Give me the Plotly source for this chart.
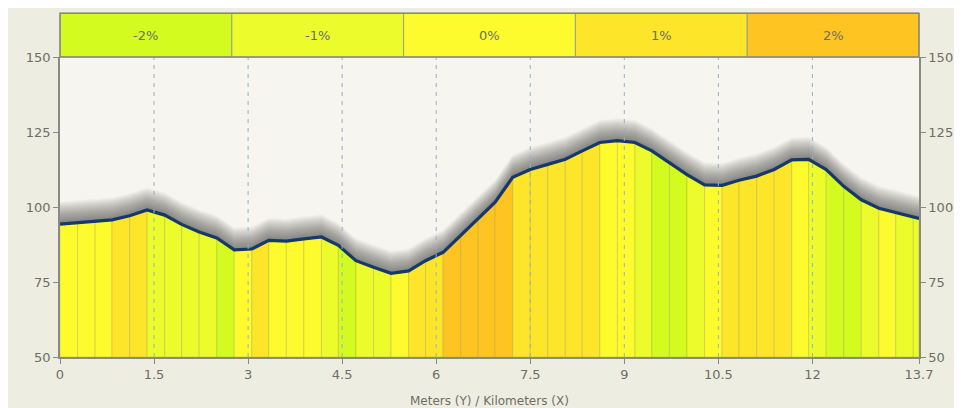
import plotly.graph_objects as go

# distance (km) at the boundaries of the coloured slope segments
km = [0.00, 0.28, 0.56, 0.83, 1.11, 1.39, 1.67, 1.94, 2.22, 2.50,
      2.78, 3.06, 3.33, 3.61, 3.89, 4.17, 4.44, 4.72, 5.00, 5.28,
      5.56, 5.83, 6.11, 6.39, 6.67, 6.94, 7.22, 7.50, 7.78, 8.06,
      8.33, 8.61, 8.89, 9.17, 9.44, 9.72, 10.00, 10.28, 10.56, 10.83,
      11.11, 11.39, 11.67, 11.94, 12.22, 12.50, 12.78, 13.06, 13.33, 13.61,
      13.70]
# elevation (m) at those boundaries
elev = [94.3, 94.7, 95.3, 95.7, 97.1, 99.0, 97.3, 94.2, 91.7, 89.7,
        85.7, 86.0, 88.9, 88.6, 89.4, 90.0, 87.2, 82.1, 79.9, 77.9,
        78.7, 82.1, 84.9, 90.5, 96.2, 101.6, 109.9, 112.5, 114.2, 115.9,
        118.7, 121.5, 122.1, 121.5, 118.7, 114.7, 110.8, 107.4, 107.2, 108.9,
        110.3, 112.5, 115.7, 115.9, 112.5, 106.9, 102.4, 99.6, 98.2, 96.8,
        96.2]
# slope class (%) of each segment
grade = [0, 0, 0, 1, 1, -1, -1, -1, -1, -2,
         0, 1, 0, 0, 0, -1, -2, -1, -1, 0,
         1, 1, 2, 2, 2, 2, 1, 1, 1, 1,
         1, 0, 0, -1, -2, -2, -1, 0, 1, 1,
         1, 1, 0, -1, -2, -2, -1, 0, -1, -1]

grade_values = [-2, -1, 0, 1, 2]
grade_labels = ["-2%", "-1%", "0%", "1%", "2%"]
grade_colors = ["#d3fb1f", "#ebfb2c", "#fdfb2d", "#fde52a", "#fdc422"]

x_ticks = [0, 1.5, 3, 4.5, 6, 7.5, 9, 10.5, 12, 13.7]
x_tick_text = ["0", "1.5", "3", "4.5", "6", "7.5", "9", "10.5", "12", "13.7"]
y_ticks = [50, 75, 100, 125, 150]
x_title = "Meters (Y) / Kilometers (X)"

FONT = "DejaVu Sans"
TXT = "#6e6e66"
AXC = "#8a8a82"

fig = go.Figure()

# soft shadow above the profile
for k in range(1, 31):
    off = 0.25 * k
    fig.add_trace(go.Scatter(
        x=km + km[::-1], y=[e + off for e in elev] + elev[::-1],
        fill="toself", fillcolor="rgba(60,60,60,0.025)",
        line=dict(width=0), mode="lines", hoverinfo="skip", showlegend=False))

# coloured slope segments
color_of = dict(zip(grade_values, grade_colors))
y0 = y_ticks[0]
for i, g in enumerate(grade):
    xa, xb = km[i], km[i + 1]
    fig.add_trace(go.Scatter(
        x=[xa, xa, xb, xb, xa], y=[y0, elev[i], elev[i + 1], y0, y0],
        fill="toself", fillcolor=color_of[g],
        line=dict(color="rgba(140,140,70,0.25)", width=1),
        mode="lines", hoverinfo="skip", showlegend=False))

# profile line
fig.add_trace(go.Scatter(x=km, y=elev, mode="lines",
                         line=dict(color="#16396a", width=3.2),
                         showlegend=False, hoverinfo="skip"))

# invisible trace for right axis
fig.add_trace(go.Scatter(x=[km[0]], y=[elev[0]], yaxis="y2", mode="markers",
                         marker=dict(opacity=0), showlegend=False, hoverinfo="skip"))

shapes = []
# dashed vertical grid lines over the fill
for v in x_ticks[1:-1]:
    shapes.append(dict(type="line", xref="x", yref="paper", x0=v, x1=v, y0=0, y1=1,
                       line=dict(color="#98b0cc", width=1, dash="4px,5px"), layer="above"))
# slope legend bar
n = len(grade_labels)
annotations = []
for i, (lab, col) in enumerate(zip(grade_labels, grade_colors)):
    shapes.append(dict(type="rect", xref="paper", yref="paper",
                       x0=i / n, x1=(i + 1) / n, y0=1.0, y1=1.146,
                       fillcolor=col, line=dict(color="#a0a088", width=1), layer="above"))
    annotations.append(dict(x=(i + 0.5) / n, y=1.073, xref="paper", yref="paper",
                            text=lab, showarrow=False, yanchor="middle", xanchor="center",
                            font=dict(family=FONT, size=13, color=TXT)))
# outer legend border
shapes.append(dict(type="rect", xref="paper", yref="paper", x0=0, x1=1, y0=1.0, y1=1.146,
                   fillcolor="rgba(0,0,0,0)", line=dict(color="#8a8a78", width=1.5), layer="above"))

annotations.append(dict(x=0.5, y=-0.145, xref="paper", yref="paper", text=x_title,
                        showarrow=False, yanchor="middle",
                        font=dict(family=FONT, size=12, color=TXT)))

axis_common = dict(showgrid=False, zeroline=False, showline=True, linecolor=AXC, linewidth=1.5,
                   ticks="outside", ticklen=5, tickcolor=AXC,
                   tickfont=dict(family=FONT, size=13, color=TXT))

fig.update_layout(
    width=962, height=408,
    margin=dict(l=52, r=51, t=49, b=59),
    paper_bgcolor="#eeede2", plot_bgcolor="#f6f5ef",
    xaxis=dict(range=[0, 13.7], tickvals=x_ticks, ticktext=x_tick_text, **axis_common),
    yaxis=dict(range=[50, 150], tickvals=y_ticks, **axis_common),
    yaxis2=dict(range=[50, 150], tickvals=y_ticks, overlaying="y", side="right", **axis_common),
    shapes=shapes, annotations=annotations,
    showlegend=False,
)

fig.write_html("out.html")
